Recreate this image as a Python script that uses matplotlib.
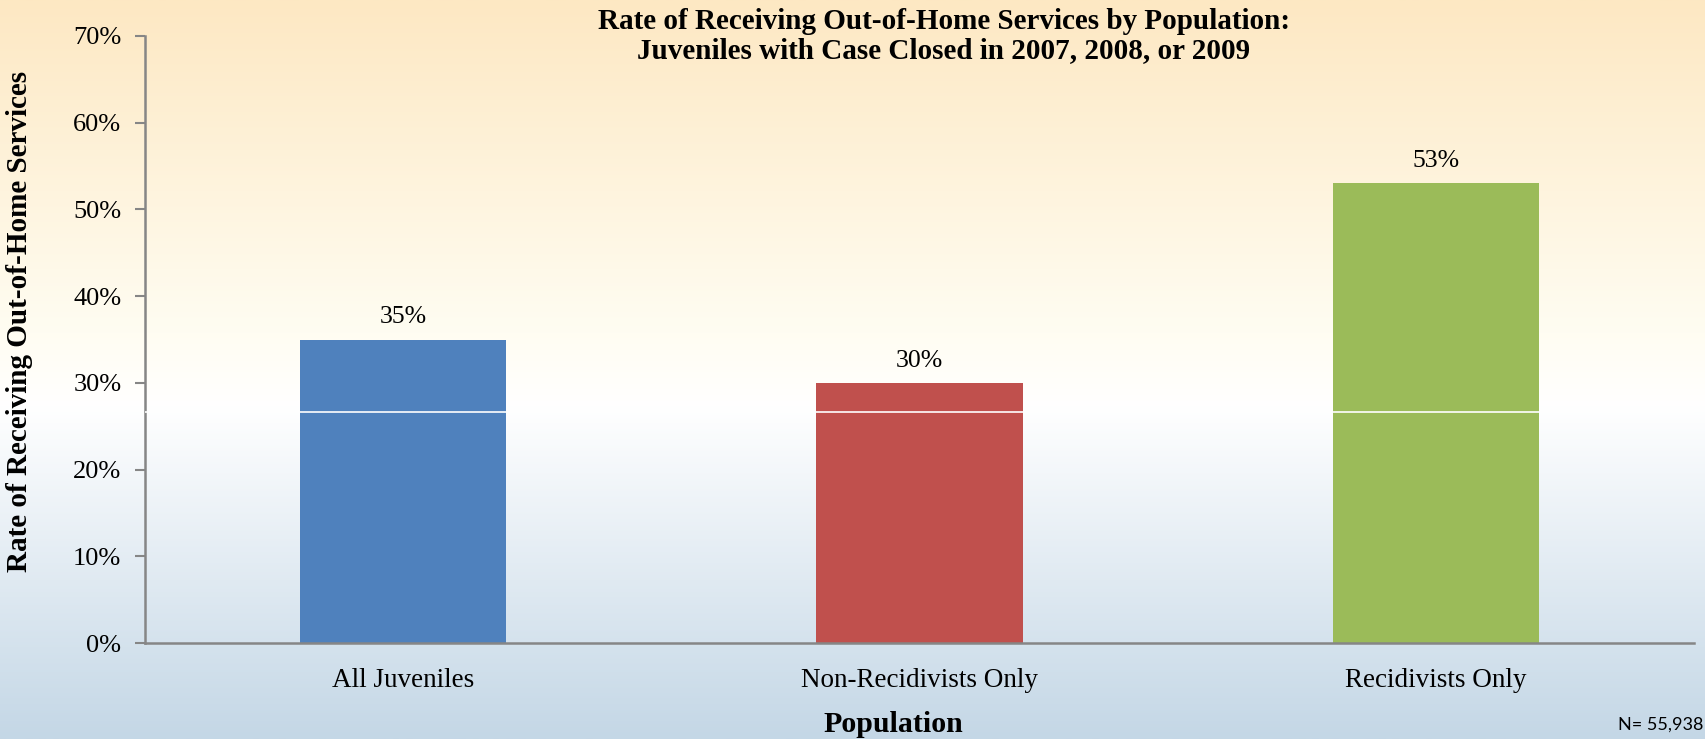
import numpy as np
import matplotlib
matplotlib.use("Agg")
import matplotlib.pyplot as plt
from matplotlib.colors import LinearSegmentedColormap

categories = ["All Juveniles", "Non-Recidivists Only", "Recidivists Only"]
rates = [35, 30, 53]
bar_colors = ["#4f81bd", "#c0504d", "#9bbb59"]
yticks = [0, 10, 20, 30, 40, 50, 60, 70]

serif = ["Liberation Serif", "DejaVu Serif"]

fig = plt.figure(figsize=(17.06, 7.39), dpi=100)

# background gradient: peach at the top, white in the middle, pale blue at the bottom
bg = fig.add_axes([0, 0, 1, 1], zorder=0)
bg_cmap = LinearSegmentedColormap.from_list(
    "bg", [(0.0, "#c4d7e6"), (0.45, "#ffffff"), (0.55, "#fffdf2"), (1.0, "#fde8c3")])
bg.imshow(np.linspace(0, 1, 256).reshape(-1, 1), aspect="auto", cmap=bg_cmap,
          origin="lower", extent=[0, 1, 0, 1])
bg.set_axis_off()

left, right = 145 / 1706, 1694 / 1706
bottom, top = 1 - 643 / 739, 1 - 36 / 739
ax = fig.add_axes([left, bottom, right - left, top - bottom], zorder=1)
ax.patch.set_alpha(0)

x = np.arange(len(categories))
bars = ax.bar(x, rates, width=0.4, color=bar_colors, zorder=2)
ax.axhline(26.6, color="white", linewidth=1.2, zorder=3)

for xi, v in zip(x, rates):
    ax.text(xi, v + 1.3, f"{v}%", ha="center", va="bottom", fontsize=18.5,
            family=serif)

ax.set_xlim(-0.5, 2.5)
ax.set_ylim(0, 70)
ax.set_yticks(yticks)
ax.set_yticklabels([f"{t}%" for t in yticks], family=serif, fontsize=19)
ax.set_xticks(x)
ax.set_xticklabels(categories, family=serif, fontsize=19.5)
ax.tick_params(axis="x", length=0, pad=18)
ax.tick_params(axis="y", length=7, width=1.5, color="#868686", pad=10)

for s in ["top", "right"]:
    ax.spines[s].set_visible(False)
for s in ["left", "bottom"]:
    ax.spines[s].set_color("#868686")
    ax.spines[s].set_linewidth(1.8)

fig.text(20 / 1706, 1 - 321 / 739, "Rate of Receiving Out-of-Home Services",
         rotation=90, ha="center", va="center", family=serif,
         fontsize=21, fontweight="bold")
fig.text(893 / 1706, 1 - 725 / 739, "Population", ha="center", va="center",
         family=serif, fontsize=21.5, fontweight="bold")

fig.text(944 / 1706, 1 - 36 / 739,
         "Rate of Receiving Out-of-Home Services by Population:\n"
         "Juveniles with Case Closed in 2007, 2008, or 2009",
         ha="center", va="center", family=serif, fontsize=21,
         fontweight="bold", linespacing=1.1)

fig.text(1703 / 1706, 1 - 725 / 739, "N= 55,938", ha="right", va="center",
         family=["Lato", "DejaVu Sans"], fontsize=13)

fig.savefig("out.png", dpi=100)
